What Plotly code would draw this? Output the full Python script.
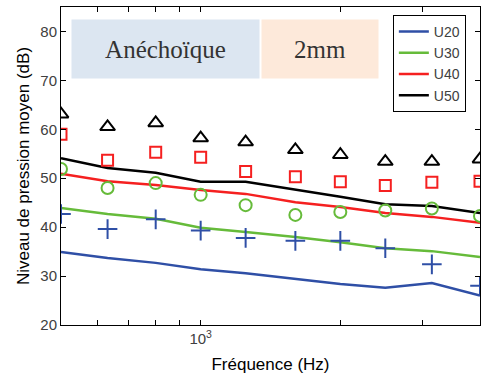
import plotly.graph_objects as go

freqs = [500, 630, 800, 1000, 1250, 1600, 2000, 2500, 3150, 4000]

# simulated (lines)
sim_u20 = [34.9, 33.7, 32.7, 31.4, 30.6, 29.4, 28.4, 27.6, 28.6, 26.0]
sim_u30 = [43.9, 42.7, 41.7, 39.9, 39.0, 38.0, 36.9, 35.7, 35.1, 33.9]
sim_u40 = [50.9, 49.4, 48.6, 47.6, 46.8, 45.1, 44.1, 42.9, 42.1, 40.9]
sim_u50 = [54.1, 52.1, 51.1, 49.3, 49.3, 47.6, 46.2, 44.7, 44.3, 42.9]

# measured (markers)
mes_u20 = [42.7, 39.6, 41.6, 39.3, 37.8, 37.2, 37.2, 35.7, 32.4, 28.0]
mes_u30 = [51.9, 48.0, 49.0, 46.6, 44.5, 42.5, 43.1, 43.4, 43.8, 42.3]
mes_u40 = [59.0, 53.7, 55.3, 54.3, 51.4, 50.3, 49.3, 48.5, 49.2, 49.4]
mes_u50 = [63.1, 60.5, 61.3, 58.2, 57.4, 55.8, 54.8, 53.4, 53.4, 53.9]

names = ["U20", "U30", "U40", "U50"]
colors = ["#2f4fa6", "#66bb3a", "#f52020", "#000000"]
sims = [sim_u20, sim_u30, sim_u40, sim_u50]
mess = [mes_u20, mes_u30, mes_u40, mes_u50]
symbols = ["cross-thin-open", "circle-open", "square-open", "triangle-up-open"]
msizes = [14, 12, 11, 13]

fig = go.Figure()
for n, c, s in zip(names, colors, sims):
    fig.add_trace(go.Scatter(x=freqs, y=s, mode="lines", name=n,
                             line=dict(color=c, width=2.5)))
for n, c, m, sym, ms in zip(names, colors, mess, symbols, msizes):
    fig.add_trace(go.Scatter(x=freqs, y=m, mode="markers", name=n + " mes", showlegend=False,
                             marker=dict(symbol=sym, size=ms, color=c,
                                         line=dict(color=c, width=2))))

fig.update_layout(
    width=481, height=378,
    margin=dict(l=61, r=1, t=7, b=53),
    paper_bgcolor="white", plot_bgcolor="white",
    font=dict(family="Liberation Sans, Arial", size=15, color="#404040"),
    legend=dict(x=0.792, y=0.975, xanchor="left", yanchor="top",
                bordercolor="black", borderwidth=1, bgcolor="white",
                font=dict(size=14, color="#404040"), tracegroupgap=0,
                itemwidth=30),
    annotations=[
        dict(x=0.249, y=0.868, xref="paper", yref="paper", text="Anéchoïque",
             xanchor="center", yanchor="middle",
             showarrow=False, width=185, height=56, bgcolor="#dce6f1",
             font=dict(family="Liberation Serif, Times New Roman", size=25, color="#333333")),
        dict(x=0.618, y=0.868, xref="paper", yref="paper", text="2mm",
             xanchor="center", yanchor="middle",
             showarrow=False, width=114, height=56, bgcolor="#fde9da",
             font=dict(family="Liberation Serif, Times New Roman", size=25, color="#333333")),
    ],
)

fig.update_xaxes(
    type="log", range=[2.69897, 3.60206],
    tickvals=[1000], ticktext=["10<sup>3</sup>"],
    ticks="inside", ticklen=5, tickcolor="black",
    minor=dict(tickvals=[500, 600, 700, 800, 900, 2000, 3000, 4000], ticks="inside",
               ticklen=5, tickcolor="black", showgrid=False),
    showline=True, linecolor="black", linewidth=1, mirror="ticks",
    showgrid=False, zeroline=False,
    title=dict(text="Fréquence (Hz)", font=dict(size=17, color="black"), standoff=12),
)
fig.update_yaxes(
    range=[20, 85], tickvals=[20, 30, 40, 50, 60, 70, 80],
    ticks="inside", ticklen=5, tickcolor="black",
    showline=True, linecolor="black", linewidth=1, mirror="ticks",
    showgrid=False, zeroline=False,
    title=dict(text="Niveau de pression moyen (dB)", font=dict(size=17, color="black"), standoff=6),
)

fig.write_html("out.html")
